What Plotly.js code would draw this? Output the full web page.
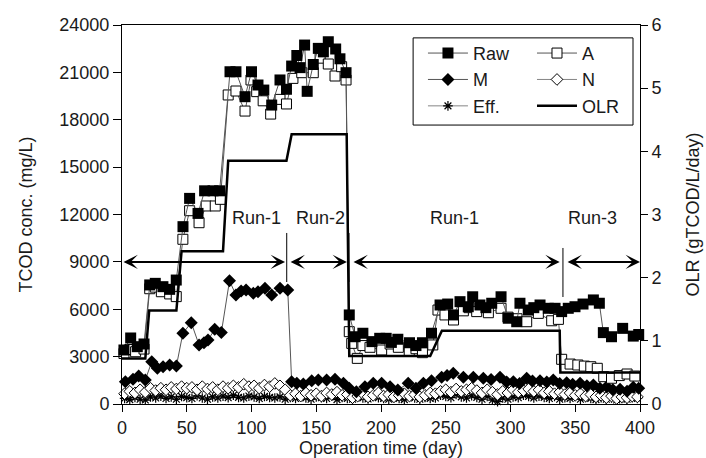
<!DOCTYPE html>
<html>
<head>
<meta charset="utf-8">
<script src="https://cdn.plot.ly/plotly-3.0.1.min.js"></script>
<style>
html,body{margin:0;padding:0;background:#fff;}
#chart{width:706px;height:458px;}
</style>
</head>
<body>
<div id="chart"></div>
<script>
// ---- Data ----
const rawDay = [1.5, 6.7, 11.8, 17, 21.4, 25.7, 31.6, 36.8, 41.9, 47.1, 52.2, 58.7, 63.8, 70.3, 75.4, 83.4, 88, 95, 100, 105, 109.5, 115.6, 122, 127, 131, 135, 137.5, 141, 143, 147.7, 151.6, 155.5, 159.3, 165, 168.3, 173, 175.5, 180, 186, 193, 199, 204, 208, 213, 222, 227, 232, 239, 245.6, 251.5, 256, 261, 267.4, 270.8, 276.4, 281, 285.5, 292.7, 298.3, 304.8, 307.3, 313.7, 318, 322.8, 329.2, 334.4, 339.5, 344.6, 349.8, 356, 364, 368.6, 371.7, 378, 386.6, 394.8, 399];
const rawTCOD = [3420, 4180, 3630, 3800, 7540, 7640, 7430, 7260, 7850, 11230, 13020, 12070, 13500, 13500, 13500, 21040, 21040, 19460, 21040, 20200, 19880, 18930, 20520, 19930, 21400, 22070, 21300, 22730, 19800, 21500, 22520, 22300, 22940, 22480, 21860, 20980, 5640, 4260, 4480, 3950, 4160, 4160, 3900, 4100, 3880, 3700, 3880, 4480, 6270, 6330, 5640, 6480, 6160, 6790, 6270, 6100, 6380, 6790, 5430, 5210, 6380, 5950, 6100, 6270, 6060, 6060, 5850, 6060, 6160, 6330, 6590, 6380, 4520, 4260, 4790, 4300, 4400];

const aDay = [1.5, 6, 10.5, 17, 21.4, 25.7, 30.4, 36.8, 41.9, 47, 52.2, 59.5, 65, 72, 76, 82, 88, 95, 99.6, 104, 109, 114.8, 122, 127, 132, 138.8, 147.7, 153, 159.3, 164.5, 169.6, 173, 175.5, 177.4, 181.7, 186, 191.5, 200.5, 207, 213.4, 221.8, 227, 232, 240, 244, 249.4, 256, 263.6, 268, 273.9, 282.9, 292.7, 298, 305, 312.5, 321.5, 331.8, 337, 339.5, 346, 352, 357, 362, 367, 372, 378, 384, 390, 396];
const aTCOD = [3200, 3450, 3310, 3480, 7300, 7400, 7110, 6970, 6800, 10430, 12240, 11480, 12540, 12540, 12960, 19570, 19820, 18550, 20520, 19780, 19200, 18360, 19290, 19000, 20620, 20980, 20980, 21900, 21530, 20770, 21360, 20520, 4580, 3840, 2890, 3700, 3590, 3420, 3800, 3590, 3380, 3500, 3250, 3740, 5950, 5640, 5320, 5900, 6100, 5850, 5780, 6060, 5500, 5400, 5210, 5740, 5270, 5360, 2830, 2530, 2470, 2400, 2360, 2260, 1730, 1630, 1800, 1900, 1770];

const mDay = [2.6, 8.5, 12.9, 18, 23, 27.3, 31.7, 36.8, 42, 47, 53.5, 59.5, 63.3, 66.4, 71.6, 76.7, 83, 88, 92, 95.8, 101.4, 105, 110.4, 115.6, 122, 128, 131, 135, 140, 146.5, 151.6, 158, 164.5, 171, 175.5, 181, 187.6, 194, 200.5, 207, 213, 221, 227, 232.7, 239, 246.8, 251, 255.8, 263.6, 271.3, 279, 285, 291.9, 297, 302.2, 307, 312.5, 317, 322.8, 328, 333, 338, 343.4, 348, 353.7, 359, 364, 369, 374.3, 379, 384.6, 390, 394.8, 399];
const mTCOD = [1410, 1560, 1770, 1520, 2680, 2260, 2360, 2470, 2400, 4480, 5150, 3740, 3880, 4050, 4730, 4520, 7800, 6900, 7150, 7220, 7010, 7110, 7330, 6900, 7330, 7220, 1410, 1310, 1270, 1480, 1520, 1520, 1560, 1310, 990, 780, 1100, 1310, 1310, 1100, 890, 1310, 1000, 1310, 1480, 1690, 1800, 1940, 1690, 1690, 1630, 1550, 1690, 1400, 1410, 1300, 1630, 1450, 1480, 1400, 1520, 1300, 1350, 1250, 1310, 1150, 1200, 1000, 1100, 900, 930, 800, 1060, 990];

const nDay = [2, 6, 10, 14, 18, 22, 26, 30, 34, 38, 42, 46, 50, 54, 58, 62, 66, 70, 74, 78, 82, 86, 90, 94, 98, 102, 106, 110, 114, 118, 122, 126, 130, 134, 138, 142, 146, 150, 154, 158, 162, 166, 170, 174, 178, 182, 186, 190, 194, 198, 202, 206, 210, 214, 218, 222, 226, 230, 234, 238, 242, 246, 250, 254, 258, 262, 266, 270, 274, 278, 282, 286, 290, 294, 298, 302, 306, 310, 314, 318, 322, 326, 330, 334, 338, 342, 346, 350, 354, 358, 362, 366, 370, 374, 378, 382, 386, 390, 394, 398];
const nTCOD = [650, 800, 700, 900, 750, 1000, 850, 1000, 900, 1050, 950, 1100, 1000, 1050, 900, 1100, 950, 1050, 900, 1100, 1000, 1150, 1050, 1250, 1100, 1150, 1000, 1200, 1100, 1300, 1150, 900, 550, 650, 500, 700, 550, 650, 500, 700, 600, 750, 550, 600, 400, 500, 650, 450, 550, 700, 500, 600, 450, 550, 650, 500, 600, 450, 550, 700, 650, 800, 900, 750, 950, 800, 900, 1000, 850, 700, 900, 750, 600, 800, 700, 900, 750, 850, 950, 800, 900, 700, 800, 650, 750, 600, 700, 550, 650, 500, 600, 450, 550, 400, 500, 350, 450, 400, 500, 450];

const effDay = [2, 6, 10, 14, 18, 22, 26, 30, 34, 38, 42, 46, 50, 54, 58, 62, 66, 70, 74, 78, 82, 86, 90, 94, 98, 102, 106, 110, 114, 118, 122, 126, 130, 134, 138, 142, 146, 150, 154, 158, 162, 166, 170, 174, 178, 182, 186, 190, 194, 198, 202, 206, 210, 214, 218, 222, 226, 230, 234, 238, 242, 246, 250, 254, 258, 262, 266, 270, 274, 278, 282, 286, 290, 294, 298, 302, 306, 310, 314, 318, 322, 326, 330, 334, 338, 342, 346, 350, 354, 358, 362, 366, 370, 374, 378, 382, 386, 390, 394, 398];
const effTCOD = [350, 280, 420, 300, 250, 450, 380, 500, 350, 450, 300, 480, 400, 350, 520, 380, 300, 450, 380, 500, 400, 550, 420, 380, 500, 450, 350, 480, 420, 380, 450, 300, 420, 350, 480, 380, 300, 450, 400, 350, 500, 280, 420, 350, 300, 450, 380, 320, 480, 400, 350, 300, 420, 350, 280, 450, 380, 300, 420, 350, 380, 550, 480, 400, 600, 450, 380, 520, 420, 300, 480, 250, 150, 380, 300, 450, 400, 550, 480, 380, 500, 420, 350, 480, 300, 400, 350, 480, 300, 420, 350, 280, 400, 300, 380, 250, 350, 300, 400, 350];

const olrDay = [0, 18, 21, 42, 46, 78, 82, 127, 131, 173.5, 175.5, 238, 247, 338, 338.5, 400];
const olrVal = [0.72, 0.72, 1.48, 1.48, 2.42, 2.42, 3.85, 3.85, 4.27, 4.27, 0.76, 0.76, 1.16, 1.16, 0.5, 0.5];

// Run periods (double arrows at TCOD 9000)
const runLabels = ['Run-1', 'Run-2', 'Run-1', 'Run-3'];
const runStart = [0, 129, 177.6, 342.9];
const runEnd = [125.9, 173.7, 338, 400];
const runLabelDay = [104, 153, 257, 363];
const runArrowLevel = 9000;
const runLabelLevel = 11780;
const sepDay = [127.2, 175.3, 340.5];
const sepTop = [10830, 10830, 9880];
const sepBottom = [7725, 7725, 6775];

const xTicks = [0, 50, 100, 150, 200, 250, 300, 350, 400];
const yTicks = [0, 3000, 6000, 9000, 12000, 15000, 18000, 21000, 24000];
const y2Ticks = [0, 1, 2, 3, 4, 5, 6];

// ---- Styles ----
const FONT = 'Liberation Sans, Arial, Helvetica, sans-serif';
const TXT = '#1a1a1a';
const connector = {color: '#555', width: 1};

const traces = [
  {x: effDay, y: effTCOD, name: 'Eff.', mode: 'lines+markers', legend: 'legend', legendrank: 3,
   line: {color: '#666', width: 0.8},
   marker: {symbol: 'asterisk-open', size: 8, color: '#000', line: {color: '#000', width: 1.2}},
   cliponaxis: false},
  {x: nDay, y: nTCOD, name: 'N', mode: 'lines+markers', legend: 'legend2', legendrank: 2,
   line: {color: '#666', width: 0.8},
   marker: {symbol: 'diamond', size: 9, color: '#fff', line: {color: '#000', width: 1}},
   cliponaxis: false},
  {x: mDay, y: mTCOD, name: 'M', mode: 'lines+markers', legend: 'legend', legendrank: 2,
   line: connector,
   marker: {symbol: 'diamond', size: 10, color: '#000', line: {color: '#000', width: 0}},
   cliponaxis: false},
  {x: aDay, y: aTCOD, name: 'A', mode: 'lines+markers', legend: 'legend2', legendrank: 1,
   line: connector,
   marker: {symbol: 'square', size: 10, color: '#fff', line: {color: '#000', width: 1}},
   cliponaxis: false},
  {x: rawDay, y: rawTCOD, name: 'Raw', mode: 'lines+markers', legend: 'legend', legendrank: 1,
   line: connector,
   marker: {symbol: 'square', size: 11, color: '#000', line: {color: '#000', width: 0}},
   cliponaxis: false},
  {x: olrDay, y: olrVal, name: 'OLR', mode: 'lines', yaxis: 'y2', legend: 'legend2', legendrank: 3,
   line: {color: '#000', width: 2.5}, cliponaxis: false}
];

const annotations = [];
for (let i = 0; i < runLabels.length; i++) {
  annotations.push({
    x: runEnd[i], y: runArrowLevel, ax: runStart[i], ay: runArrowLevel,
    xref: 'x', yref: 'y', axref: 'x', ayref: 'y',
    text: '', showarrow: true, arrowside: 'end+start',
    arrowhead: 3, startarrowhead: 3, arrowsize: 1.2, startarrowsize: 1.2,
    arrowwidth: 2, arrowcolor: '#000', standoff: 0, startstandoff: 0
  });
  annotations.push({
    x: runLabelDay[i], y: runLabelLevel, xref: 'x', yref: 'y',
    text: runLabels[i], showarrow: false,
    font: {family: FONT, size: 18, color: TXT}
  });
}

const shapes = [];
for (let i = 0; i < sepDay.length; i++) {
  shapes.push({type: 'line', xref: 'x', yref: 'y', x0: sepDay[i], x1: sepDay[i],
    y0: sepBottom[i], y1: sepTop[i], line: {color: '#000', width: 1}});
}
// legend frame
shapes.push({type: 'rect', xref: 'paper', yref: 'paper', x0: 0.562, x1: 0.9865, y0: 0.736, y1: 0.966,
  line: {color: '#000', width: 1}, fillcolor: '#fff', layer: 'above'});

const legendCommon = {
  yanchor: 'top', xanchor: 'left', y: 0.974,
  bgcolor: 'rgba(0,0,0,0)', borderwidth: 0,
  font: {family: FONT, size: 18, color: TXT},
  itemwidth: 40, tracegroupgap: 0, traceorder: 'normal'
};

const layout = {
  width: 706, height: 458,
  margin: {l: 122, r: 66, t: 25, b: 54, pad: 0},
  paper_bgcolor: '#fff', plot_bgcolor: '#fff',
  font: {family: FONT, size: 18, color: TXT},
  showlegend: true,
  legend: Object.assign({}, legendCommon, {x: 0.581}),
  legend2: Object.assign({}, legendCommon, {x: 0.7915}),
  xaxis: {
    range: [0, 400], tickvals: xTicks, ticktext: xTicks.map(String),
    ticks: 'outside', ticklen: 7, tickwidth: 1, tickcolor: '#000',
    showline: true, linecolor: '#000', linewidth: 1, mirror: true,
    showgrid: false, zeroline: false,
    tickfont: {family: FONT, size: 18, color: TXT},
    title: {text: 'Operation time (day)', font: {family: FONT, size: 18, color: TXT}, standoff: 6}
  },
  yaxis: {
    range: [0, 24000], tickvals: yTicks, ticktext: yTicks.map(String),
    ticks: 'outside', ticklen: 8, tickwidth: 1, tickcolor: '#000',
    showline: true, linecolor: '#000', linewidth: 1,
    showgrid: false, zeroline: false,
    tickfont: {family: FONT, size: 18, color: TXT},
    title: {text: 'TCOD conc. (mg/L)', font: {family: FONT, size: 18, color: TXT}, standoff: 22}
  },
  yaxis2: {
    range: [0, 6], tickvals: y2Ticks, ticktext: y2Ticks.map(String),
    overlaying: 'y', side: 'right',
    ticks: 'outside', ticklen: 7, tickwidth: 1, tickcolor: '#000',
    showline: true, linecolor: '#000', linewidth: 1,
    showgrid: false, zeroline: false,
    tickfont: {family: FONT, size: 18, color: TXT},
    title: {text: 'OLR (gTCOD/L/day)', font: {family: FONT, size: 18, color: TXT}, standoff: 25}
  },
  annotations: annotations,
  shapes: shapes
};

Plotly.newPlot('chart', traces, layout, {staticPlot: true, displayModeBar: false});
</script>
</body>
</html>
